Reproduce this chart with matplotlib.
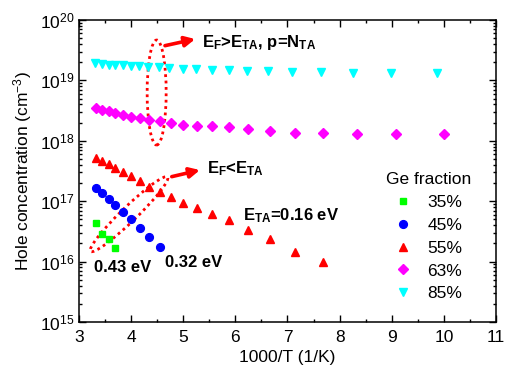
import matplotlib
matplotlib.use("Agg")
import matplotlib.pyplot as plt
from matplotlib.patches import Ellipse
from matplotlib.transforms import ScaledTranslation
from matplotlib.ticker import FixedLocator, MultipleLocator, LogLocator, NullFormatter

plt.rcParams['font.family'] = ['Liberation Sans', 'DejaVu Sans']
plt.rcParams['mathtext.fontset'] = 'custom'
plt.rcParams['mathtext.rm'] = 'Liberation Sans'
plt.rcParams['mathtext.bf'] = 'Liberation Sans:bold'
plt.rcParams['mathtext.default'] = 'regular'

# Hole concentration vs inverse temperature for several Ge fractions
x35 = [3.33, 3.45, 3.57, 3.70]
p35 = [4.4e16, 2.9e16, 2.34e16, 1.66e16]

x45 = [3.33, 3.45, 3.57, 3.70, 3.85, 4.00, 4.17, 4.35, 4.55]
p45 = [1.66e17, 1.38e17, 1.09e17, 8.65e16, 6.7e16, 5.0e16, 3.64e16, 2.58e16, 1.75e16]

x55 = [3.33, 3.45, 3.57, 3.70, 3.85, 4.00, 4.17, 4.35, 4.55, 4.76, 5.00, 5.26,
       5.56, 5.88, 6.25, 6.67, 7.14, 7.69]
p55 = [5.25e17, 4.7e17, 4.1e17, 3.6e17, 3.0e17, 2.6e17, 2.14e17, 1.74e17, 1.44e17,
       1.17e17, 9.3e16, 7.8e16, 6.2e16, 4.9e16, 3.3e16, 2.33e16, 1.42e16, 1.0e16]

x63 = [3.33, 3.45, 3.57, 3.70, 3.85, 4.00, 4.17, 4.35, 4.55, 4.76, 5.00, 5.26,
       5.56, 5.88, 6.25, 6.67, 7.14, 7.69, 8.33, 9.09, 10.0]
p63 = [3.45e18, 3.27e18, 3.08e18, 2.85e18, 2.70e18, 2.48e18, 2.36e18, 2.21e18,
       2.10e18, 1.95e18, 1.85e18, 1.76e18, 1.73e18, 1.67e18, 1.55e18, 1.45e18,
       1.35e18, 1.33e18, 1.31e18, 1.30e18, 1.28e18]

x85 = [3.31, 3.45, 3.58, 3.70, 3.84, 3.99, 4.16, 4.33, 4.54, 4.73, 4.99, 5.25,
       5.55, 5.87, 6.22, 6.63, 7.09, 7.64, 8.25, 8.99, 9.87]
p85 = [1.92e19, 1.87e19, 1.83e19, 1.80e19, 1.77e19, 1.73e19, 1.70e19, 1.67e19,
       1.64e19, 1.60e19, 1.56e19, 1.53e19, 1.50e19, 1.47e19, 1.43e19, 1.42e19,
       1.38e19, 1.36e19, 1.34e19, 1.33e19, 1.31e19]

series_labels = ['35%', '45%', '55%', '63%', '85%']
x_ticks = [3, 4, 5, 6, 7, 8, 9, 10, 11]
y_decades = [15, 16, 17, 18, 19, 20]

fig = plt.figure(figsize=(5.07, 3.74), dpi=100)
ax = fig.add_axes([0.1558, 0.139, 0.8225, 0.8075])

ax.plot(x35, p35, ls='none', marker='s', ms=4.8, color='#00ff00', mec='#00ff00', label=series_labels[0])
ax.plot(x45, p45, ls='none', marker='o', ms=5.6, color='#0000ff', label=series_labels[1])
ax.plot(x55, p55, ls='none', marker='^', ms=6.2, color='#ff0000', label=series_labels[2])
ax.plot(x63, p63, ls='none', marker='D', ms=4.8, color='#ff00ff', label=series_labels[3])
ax.plot(x85, p85, ls='none', marker='v', ms=6.2, color='#00ffff', label=series_labels[4])

ax.set_yscale('log')
ax.set_xlim(3, 11)
ax.set_ylim(1e15, 1e20)
ax.xaxis.set_major_locator(FixedLocator(x_ticks))
ax.xaxis.set_minor_locator(MultipleLocator(0.5))
ax.set_xticklabels([str(t) for t in x_ticks])
ax.yaxis.set_major_locator(FixedLocator([10.0 ** d for d in y_decades]))
ax.yaxis.set_minor_locator(LogLocator(base=10, subs=range(2, 10), numticks=20))
ax.yaxis.set_minor_formatter(NullFormatter())
ax.set_yticklabels([r'10$^{%d}$' % d for d in y_decades])

ax.tick_params(which='both', direction='in', top=True, right=True, labelsize=12.5, width=1)
ax.tick_params(which='major', length=5)
ax.tick_params(which='minor', length=2.5)
ax.tick_params(axis='x', pad=6)
for s in ax.spines.values():
    s.set_linewidth(1.1)

ax.set_xlabel('1000/T (1/K)', fontsize=12.5, labelpad=3)
ax.set_ylabel('Hole concentration (cm$^{-3}$)', fontsize=12.5, labelpad=4)

leg = ax.legend(title='Ge fraction', frameon=False, fontsize=12.5, title_fontsize=12.5,
                loc='center', bbox_to_anchor=(0.838, 0.282), handlelength=1.0,
                handletextpad=0.9, labelspacing=0.44, borderpad=0.2)


def dotted_ellipse(cx, cy, w_in, h_in, angle):
    tr = fig.dpi_scale_trans + ScaledTranslation(cx, cy, ax.transData)
    e = Ellipse((0, 0), w_in, h_in, angle=angle, transform=tr, fill=False,
                edgecolor='red', lw=2, linestyle=(0, (1, 1.3)))
    ax.add_patch(e)


dotted_ellipse(4.49, 6.3e18, 0.19, 1.05, 0)
dotted_ellipse(3.96, 6.1e16, 1.07, 0.15, 44)

arrow = dict(arrowstyle='-|>,head_length=0.6,head_width=0.3', lw=2.6, color='red',
             shrinkA=0, shrinkB=0)
ax.annotate('', xy=(5.23, 4.84e19), xytext=(4.65, 3.76e19), arrowprops=arrow)
ax.annotate('', xy=(5.32, 3.28e17), xytext=(4.78, 2.55e17), arrowprops=arrow)

bold = dict(fontsize=12, fontweight='bold', va='center', ha='left')
ax.text(5.36, 4.2e19, r'E$_\mathbf{F}$>E$_\mathbf{TA}$, p=N$_\mathbf{TA}$', **bold)
ax.text(5.45, 3.4e17, r'E$_\mathbf{F}$<E$_\mathbf{TA}$', **bold)
ax.text(6.14, 5.7e16, r'E$_\mathbf{TA}$=0.16 eV', **bold)
ax.text(3.29, 8.1e15, '0.43 eV', **bold)
ax.text(4.65, 9.8e15, '0.32 eV', **bold)

fig.savefig('out.png', dpi=100)
